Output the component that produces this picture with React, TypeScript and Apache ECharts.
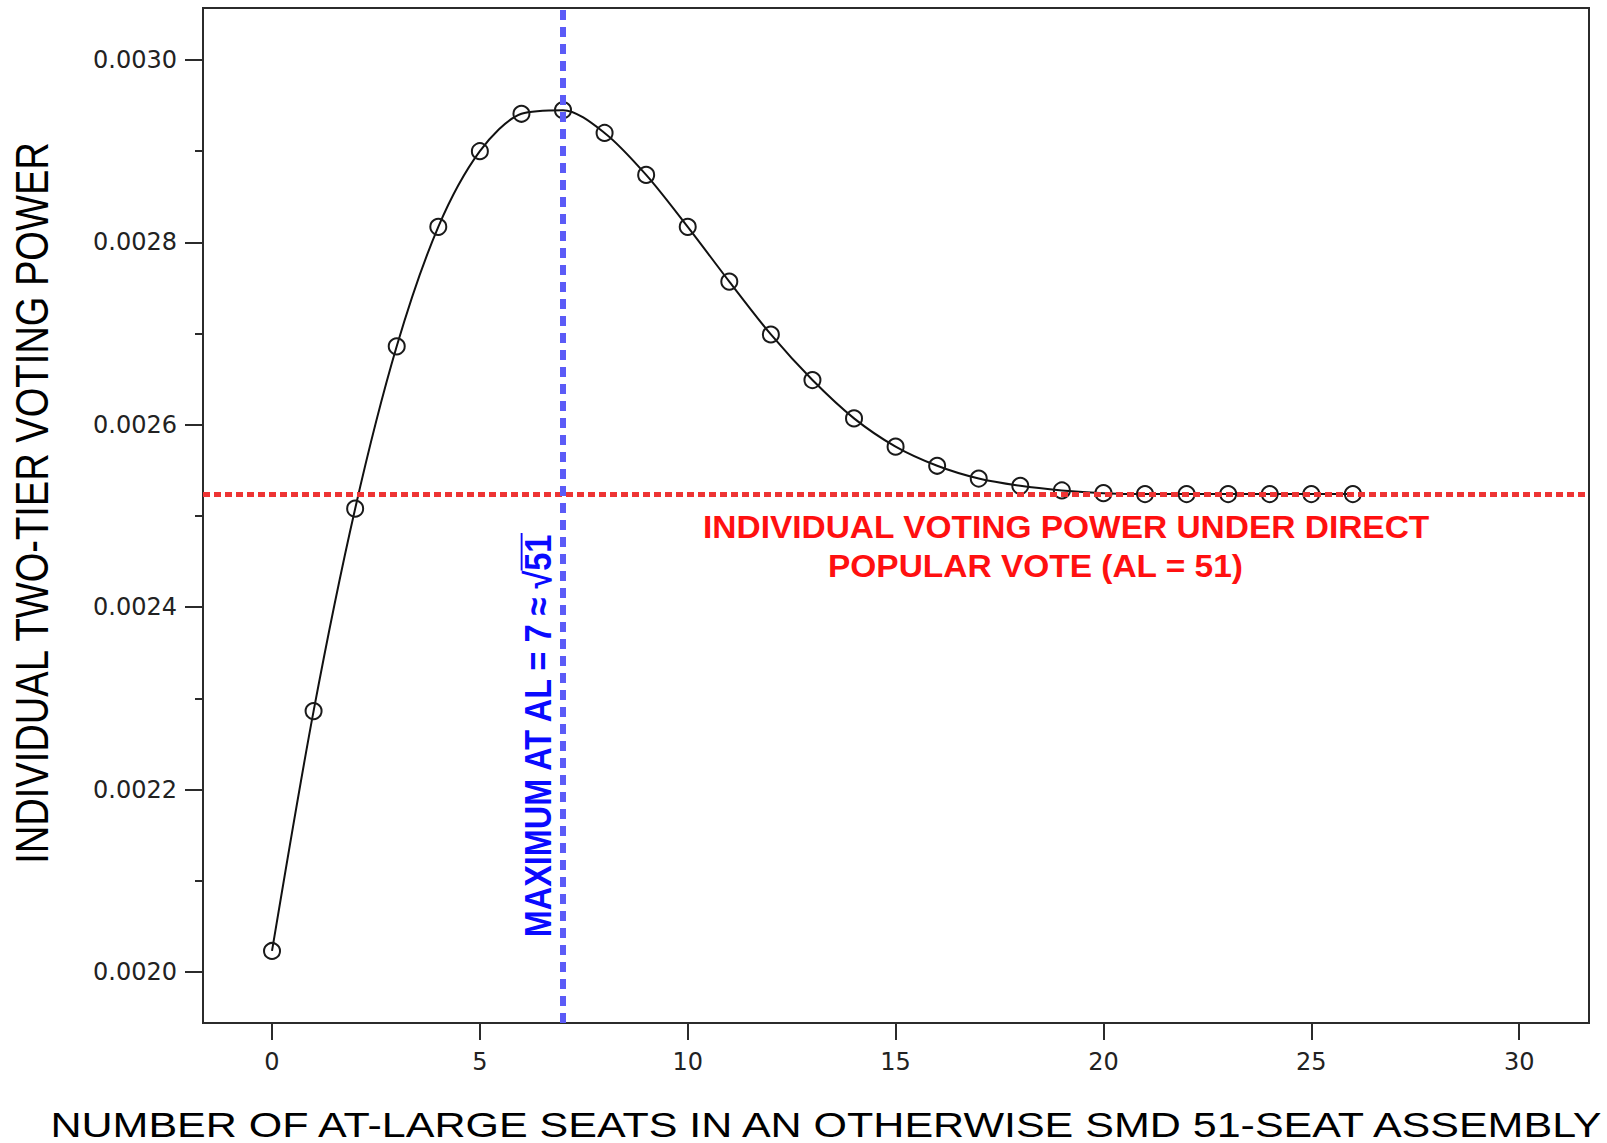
import React, { useEffect, useRef } from "react";
import * as echarts from "echarts";

// Number of at-large seats (AL) in a 51-seat assembly
const seats: number[] = [
  0, 1, 2, 3, 4, 5, 6, 7, 8, 9, 10, 11, 12, 13, 14, 15, 16, 17, 18, 19, 20, 21,
  22, 23, 24, 25, 26,
];
// Individual two-tier voting power for each AL
const votingPower: number[] = [
  0.002023, 0.002286, 0.002508, 0.002686, 0.002817, 0.0029, 0.002941, 0.002945,
  0.00292, 0.002874, 0.002817, 0.002757, 0.002699, 0.002649, 0.002607, 0.002576,
  0.002555, 0.002541, 0.002533, 0.002528, 0.002525, 0.002524, 0.002524, 0.002524,
  0.002524, 0.002524, 0.002524,
];
// Voting power under a direct popular vote (AL = 51)
const directVotePower = 0.002524;
// AL value at which the two-tier power peaks
const peakSeats = 7;

const xTicks: number[] = [0, 5, 10, 15, 20, 25, 30];
const yTicks: number[] = [0.002, 0.0022, 0.0024, 0.0026, 0.0028, 0.003];
const yMinorTicks: number[] = [0.0021, 0.0023, 0.0025, 0.0027, 0.0029];

const X_RANGE = [-1.66, 31.68];
const Y_RANGE = [0.001944, 0.003057];

const AXIS_COLOR = "#2b2b2b";
const TICK_FONT = "DejaVu Sans";
const TITLE_FONT = "Liberation Sans";

export default function App() {
  const ref = useRef<HTMLDivElement>(null);

  useEffect(() => {
    if (!ref.current) return;
    const chart = echarts.init(ref.current, null, { renderer: "svg" });

    const points = seats.map((s, i) => [s, votingPower[i]]);

    const option: any = {
      animation: false,
      backgroundColor: "#ffffff",
      grid: {
        left: 203,
        right: 18,
        top: 8,
        bottom: 120,
        show: true,
        borderColor: AXIS_COLOR,
        borderWidth: 2,
        backgroundColor: "transparent",
      },
      xAxis: {
        type: "value",
        min: X_RANGE[0],
        max: X_RANGE[1],
        axisLine: { show: true, onZero: false, lineStyle: { color: AXIS_COLOR, width: 2 } },
        axisTick: {
          show: true,
          customValues: xTicks,
          length: 17,
          lineStyle: { color: AXIS_COLOR, width: 2 },
        },
        axisLabel: {
          customValues: xTicks,
          margin: 27,
          color: "#222",
          fontFamily: TICK_FONT,
          fontSize: 24,
          formatter: (v: number) => String(v),
        },
        splitLine: { show: false },
      },
      yAxis: [
        {
          type: "value",
          min: Y_RANGE[0],
          max: Y_RANGE[1],
          axisLine: { show: true, onZero: false, lineStyle: { color: AXIS_COLOR, width: 2 } },
          axisTick: {
            show: true,
            customValues: yTicks,
            length: 18,
            lineStyle: { color: AXIS_COLOR, width: 2 },
          },
          axisLabel: {
            customValues: yTicks,
            margin: 26,
            color: "#222",
            fontFamily: TICK_FONT,
            fontSize: 24,
            formatter: (v: number) => v.toFixed(4),
          },
          splitLine: { show: false },
        },
        {
          // minor ticks on the left edge
          type: "value",
          position: "left",
          min: Y_RANGE[0],
          max: Y_RANGE[1],
          axisLine: { show: false, onZero: false },
          axisTick: {
            show: true,
            customValues: yMinorTicks,
            length: 8,
            lineStyle: { color: AXIS_COLOR, width: 2 },
          },
          axisLabel: { show: false },
          splitLine: { show: false },
        },
      ],
      series: [
        {
          type: "line",
          data: points,
          smooth: 0.3,
          symbol: "circle",
          symbolSize: 16,
          itemStyle: {
            color: "rgba(255,255,255,0)",
            borderColor: "#1a1a1a",
            borderWidth: 2,
          },
          lineStyle: { color: "#111", width: 2 },
          emphasis: { disabled: true },
          markLine: {
            silent: true,
            precision: 8,
            symbol: ["none", "none"],
            label: { show: false },
            emphasis: { disabled: true },
            data: [
              {
                yAxis: directVotePower,
                lineStyle: { color: "#ee3434", width: 5, type: [7, 4] },
              },
              {
                xAxis: peakSeats,
                lineStyle: { color: "#5b5bf7", width: 6, type: [10, 7] },
              },
            ],
          },
        },
      ],
      graphic: [
        {
          type: "text",
          x: 32,
          y: 503,
          rotation: Math.PI / 2,
          scaleX: 1.03,
          scaleY: 1.25,
          style: {
            text: "INDIVIDUAL TWO-TIER VOTING POWER",
            fontFamily: TITLE_FONT,
            fontSize: 37,
            fill: "#000",
            textAlign: "center",
            textVerticalAlign: "middle",
            align: "center",
            verticalAlign: "middle",
          },
        },
        {
          type: "text",
          x: 826,
          y: 1124,
          scaleX: 1.195,
          style: {
            text: "NUMBER OF AT-LARGE SEATS IN AN OTHERWISE SMD 51-SEAT ASSEMBLY",
            fontFamily: TITLE_FONT,
            fontSize: 36,
            fill: "#000",
            textAlign: "center",
            textVerticalAlign: "middle",
            align: "center",
            verticalAlign: "middle",
          },
        },
        {
          type: "text",
          x: 703,
          y: 527,
          scaleX: 1.046,
          style: {
            text: "INDIVIDUAL VOTING POWER UNDER DIRECT",
            fontFamily: TITLE_FONT,
            fontWeight: "bold",
            fontSize: 32,
            fill: "#ff1010",
            textAlign: "left",
            textVerticalAlign: "middle",
            align: "left",
            verticalAlign: "middle",
          },
        },
        {
          type: "text",
          x: 828,
          y: 566,
          scaleX: 1.046,
          style: {
            text: "POPULAR VOTE (AL = 51)",
            fontFamily: TITLE_FONT,
            fontWeight: "bold",
            fontSize: 32,
            fill: "#ff1010",
            textAlign: "left",
            textVerticalAlign: "middle",
            align: "left",
            verticalAlign: "middle",
          },
        },
        {
          type: "group",
          x: 538,
          y: 736,
          rotation: Math.PI / 2,
          scaleX: 1.015,
          scaleY: 1.17,
          children: [
            {
              type: "text",
              x: 0,
              y: 0,
              style: {
                text: "MAXIMUM AT AL = 7 ≈ √51",
                fontFamily: TITLE_FONT,
                fontWeight: "bold",
                fontSize: 32,
                fill: "#0a0aff",
                textAlign: "center",
                textVerticalAlign: "middle",
                align: "center",
                verticalAlign: "middle",
              },
            },
            {
              // vinculum over the radicand
              type: "line",
              shape: { x1: 163, y1: -14, x2: 200, y2: -14 },
              style: { stroke: "#0a0aff", lineWidth: 1.6 },
            },
          ],
        },
      ],
    };

    chart.setOption(option);
    return () => chart.dispose();
  }, []);

  return (
    <div
      ref={ref}
      style={{ position: "absolute", left: 0, top: 0, width: 1607, height: 1143 }}
    />
  );
}
